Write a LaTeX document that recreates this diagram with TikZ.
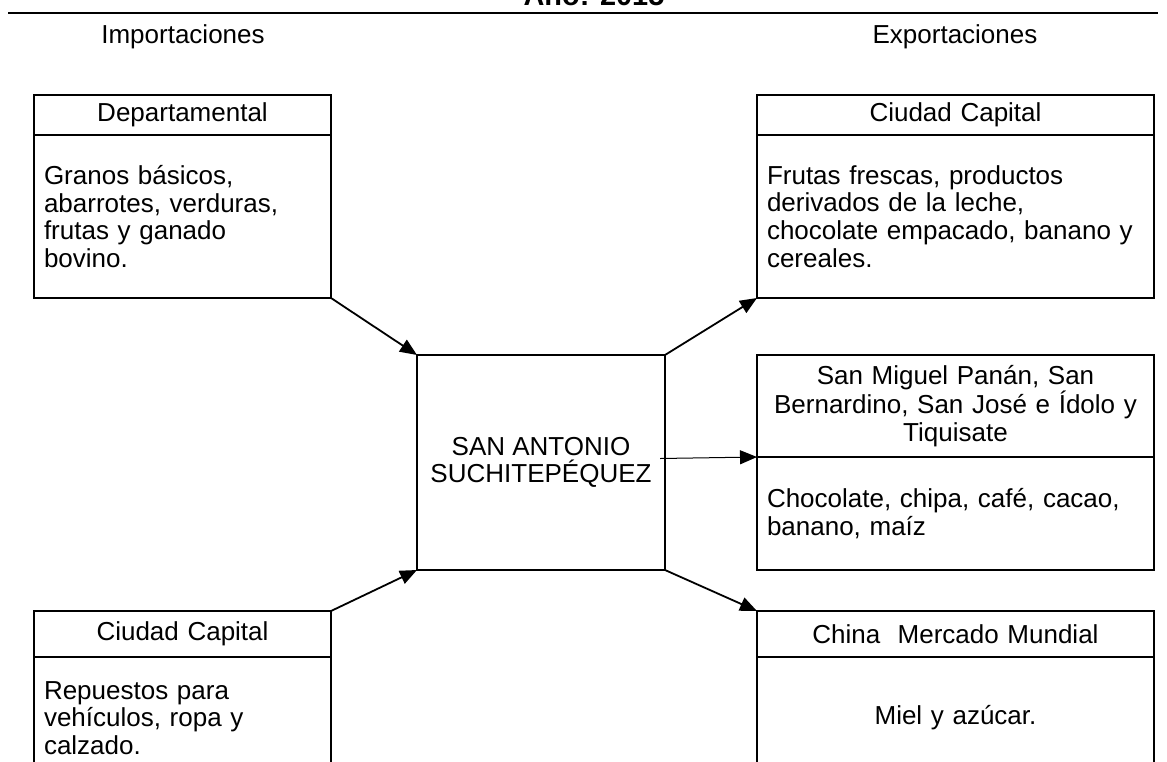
\documentclass[tikz,border=0pt]{standalone}
\usepackage{fontspec}
\setmainfont{Liberation Sans}
\usetikzlibrary{positioning,arrows.meta}

\newcommand\textocaja{\fontsize{26pt}{27.7pt}\selectfont}
\newcommand\textotitulo{\fontsize{28.9pt}{31pt}\selectfont\bfseries}

\tikzset{
	caja/.style={draw, line width=2pt, outer sep=0pt, inner xsep=10pt, inner ysep=2pt, font=\textocaja},
	angosta/.style={caja, minimum width=297pt, text width=277pt},
	ancha/.style={caja, minimum width=397pt, text width=377pt},
	flecha/.style={line width=1.8pt, -{Triangle[length=17pt,width=14pt]}}
}

\begin{document}
\begin{tikzpicture}[x=1pt, y=-1pt]
		\clip (0, 0) rectangle (1167, 761);
		\node[font=\textotitulo, anchor=base] (anio) at (594, 5) {Año: 2015};
		\draw[line width=2.5pt] (8, 13) -- (1158, 13);
		\node[font=\textocaja, anchor=base] (imp) at (183, 43) {Importaciones};
		\node[font=\textocaja, anchor=base] (exp) at (955, 43) {Exportaciones};

		% importaciones
		\node[angosta, anchor=north west, minimum height=40pt, align=center] (dep) at (34, 95) {Departamental};
		\node[angosta, below=0pt of dep, minimum height=163pt, align=left] (depbody) {Granos básicos,\\ abarrotes, verduras,\\ frutas y ganado\\ bovino.};
		\node[angosta, anchor=north west, minimum height=46pt, align=center] (capimp) at (34, 611) {Ciudad Capital};
		\node[angosta, below=0pt of capimp, minimum height=122pt, align=left] (capimpbody) {Repuestos para\\ vehículos, ropa y\\ calzado.};

		\node[caja, anchor=north west, minimum width=248pt, minimum height=215pt, align=center] (centro) at (417, 355) {SAN ANTONIO\\ SUCHITEPÉQUEZ};

		% exportaciones
		\node[ancha, anchor=north west, minimum height=40pt, align=center] (capexp) at (757, 95) {Ciudad Capital};
		\node[ancha, below=0pt of capexp, minimum height=163pt, align=left] (capexpbody) {Frutas frescas, productos\\ derivados de la leche,\\ chocolate empacado, banano y\\ cereales.};
		\node[ancha, anchor=north west, minimum height=102pt, align=center] (miguel) at (757, 355) {San Miguel Panán, San\\ Bernardino, San José e Ídolo y\\ Tiquisate};
		\node[ancha, below=0pt of miguel, minimum height=113pt, align=left] (miguelbody) {Chocolate, chipa, café, cacao,\\ banano, maíz};
		\node[ancha, anchor=north west, minimum height=46pt, align=center] (china) at (757, 611) {China~ Mercado Mundial};
		\node[ancha, below=0pt of china, minimum height=122pt, align=center] (chinabody) {Miel y azúcar.};

		\draw[flecha] (depbody.south east) -- (centro.north west);
		\draw[flecha] (capimp.north east) -- (centro.south west);
		\draw[flecha] (centro.north east) -- (capexpbody.south west);
		\draw[flecha, line width=1pt] ([xshift=-5pt, yshift=4pt]centro.east) -- (miguel.south west);
		\draw[flecha] (centro.south east) -- (china.north west);
	\end{tikzpicture}
\end{document}
